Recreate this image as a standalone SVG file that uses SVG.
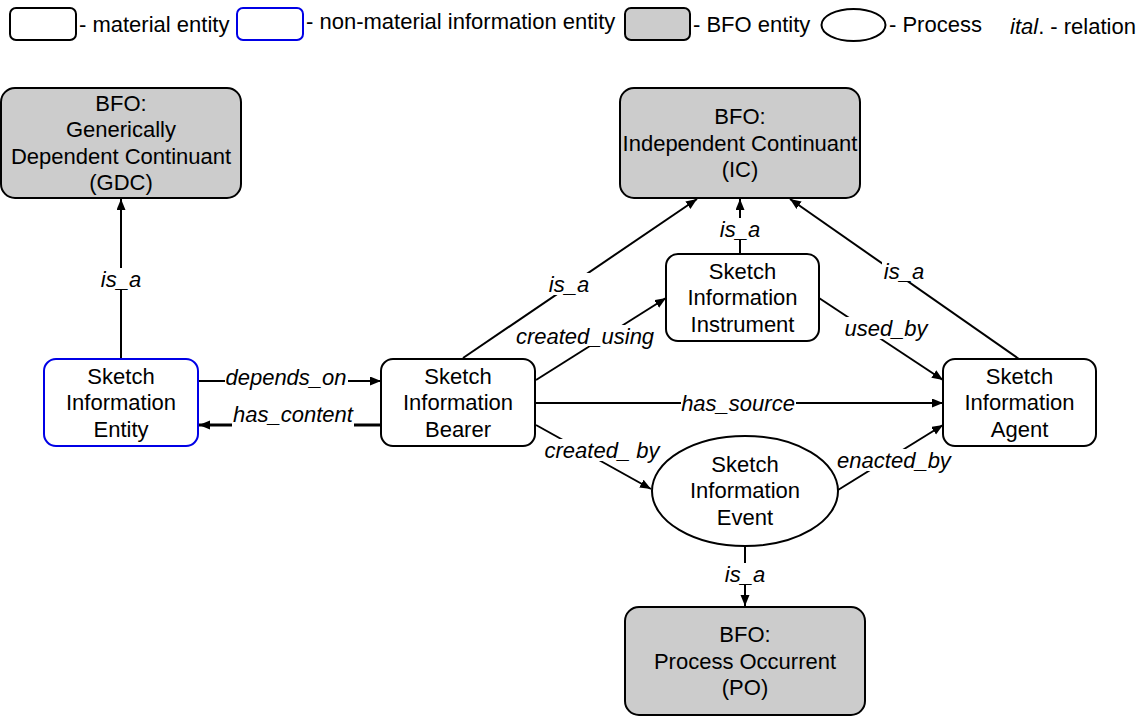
<svg xmlns="http://www.w3.org/2000/svg" width="1143" height="716" viewBox="0 0 1143 716">
<style>
text{font-family:"Liberation Sans",Arial,Helvetica,sans-serif;font-size:22px;fill:#000}
.c{text-anchor:middle}
.lbl{font-style:italic;text-anchor:middle}
.mat{fill:#fff;stroke:#000;stroke-width:2}
.info{fill:#fff;stroke:#0000e6;stroke-width:2}
.bfo{fill:#cccccc;stroke:#000;stroke-width:2}
.proc{fill:#fff;stroke:#000;stroke-width:2}
.edge{stroke:#000;stroke-width:2;fill:none;marker-end:url(#ah)}
.thick{stroke-width:3}
.bg{fill:#fff}
</style>
<defs>
<marker id="ah" markerUnits="userSpaceOnUse" markerWidth="12" markerHeight="10" refX="11" refY="4.5" orient="auto">
<path d="M0,0 L11,4.5 L0,9 z" fill="#000"/>
</marker>
</defs>
<rect width="1143" height="716" fill="#fff"/>
<g id="legend">
<rect class="mat" x="10" y="8" width="66" height="32" rx="6"/>
<text x="79" y="32">- material entity</text>
<rect class="info" x="237" y="8" width="66" height="32" rx="6"/>
<text x="306" y="29">- non-material information entity</text>
<rect class="bfo" x="625" y="8" width="65" height="32" rx="6"/>
<text x="693" y="32">- BFO entity</text>
<ellipse class="proc" cx="853.5" cy="25" rx="32" ry="16"/>
<text x="889" y="32">- Process</text>
<text x="1010" y="34"><tspan font-style="italic">ital</tspan>. - relation</text>
</g>
<g id="connectors">
<line class="edge" x1="121" y1="358" x2="121" y2="199"/>
<line class="edge" x1="198" y1="381" x2="381" y2="381"/>
<line class="edge thick" x1="381" y1="425" x2="199" y2="425"/>
<line class="edge" x1="463" y1="358" x2="697" y2="199"/>
<line class="edge" x1="536" y1="380" x2="666" y2="298"/>
<line class="edge" x1="536" y1="403" x2="943" y2="403"/>
<line class="edge" x1="536" y1="425" x2="651" y2="489"/>
<line class="edge" x1="740" y1="254" x2="740" y2="199"/>
<line class="edge" x1="819" y1="298" x2="943" y2="380"/>
<line class="edge" x1="1019" y1="359" x2="790" y2="199"/>
<line class="edge" x1="838" y1="490" x2="943" y2="425"/>
<line class="edge" x1="745" y1="547" x2="745" y2="606"/>
<rect class="bg" x="99" y="268" width="44" height="22"/>
<text class="lbl" x="121" y="287">is_a</text>
<rect class="bg" x="225" y="366" width="123" height="22"/>
<text class="lbl" x="286" y="385">depends_on</text>
<rect class="bg" x="232" y="403" width="122" height="25"/>
<text class="lbl" x="293" y="422">has_content</text>
<rect class="bg" x="547" y="273" width="44" height="22"/>
<text class="lbl" x="569" y="292">is_a</text>
<rect class="bg" x="515" y="325" width="141" height="22"/>
<text class="lbl" x="585" y="344">created_using</text>
<rect class="bg" x="681" y="392" width="115" height="22"/>
<text class="lbl" x="738" y="411">has_source</text>
<rect class="bg" x="543" y="439" width="118" height="22"/>
<text class="lbl" x="602" y="458">created_ by</text>
<rect class="bg" x="718" y="218" width="44" height="22"/>
<text class="lbl" x="740" y="237">is_a</text>
<rect class="bg" x="843" y="317" width="86" height="22"/>
<text class="lbl" x="886" y="336">used_by</text>
<rect class="bg" x="882" y="260" width="44" height="22"/>
<text class="lbl" x="904" y="279">is_a</text>
<rect class="bg" x="836" y="449" width="117" height="22"/>
<text class="lbl" x="894" y="468">enacted_by</text>
<rect class="bg" x="723" y="563" width="44" height="22"/>
<text class="lbl" x="745" y="582">is_a</text>
</g>
<g id="gdc">
<rect class="bfo" x="1" y="88" width="240" height="110" rx="14"/>
<text class="c" x="121" y="110.5">BFO:</text>
<text class="c" x="121" y="137">Generically</text>
<text class="c" x="121" y="163.5">Dependent Continuant</text>
<text class="c" x="121" y="190">(GDC)</text>
</g>
<g id="ic">
<rect class="bfo" x="620" y="88" width="240" height="110" rx="14"/>
<text class="c" x="740" y="124">BFO:</text>
<text class="c" x="740" y="150.5">Independent Continuant</text>
<text class="c" x="740" y="177">(IC)</text>
</g>
<g id="sie">
<rect class="info" x="44" y="359" width="154" height="87" rx="12"/>
<text class="c" x="121" y="383.5">Sketch</text>
<text class="c" x="121" y="410">Information</text>
<text class="c" x="121" y="436.5">Entity</text>
</g>
<g id="sib">
<rect class="mat" x="381" y="359" width="154" height="87" rx="12"/>
<text class="c" x="458" y="383.5">Sketch</text>
<text class="c" x="458" y="410">Information</text>
<text class="c" x="458" y="436.5">Bearer</text>
</g>
<g id="sii">
<rect class="mat" x="666" y="254" width="153" height="87" rx="12"/>
<text class="c" x="742.5" y="278.5">Sketch</text>
<text class="c" x="742.5" y="305">Information</text>
<text class="c" x="742.5" y="331.5">Instrument</text>
</g>
<g id="sia">
<rect class="mat" x="943" y="359" width="153" height="87" rx="12"/>
<text class="c" x="1019.5" y="383.5">Sketch</text>
<text class="c" x="1019.5" y="410">Information</text>
<text class="c" x="1019.5" y="436.5">Agent</text>
</g>
<g id="event">
<ellipse class="proc" cx="745" cy="491" rx="93" ry="55"/>
<text class="c" x="745" y="471.5">Sketch</text>
<text class="c" x="745" y="498">Information</text>
<text class="c" x="745" y="524.5">Event</text>
</g>
<g id="po">
<rect class="bfo" x="625" y="607" width="240" height="108" rx="14"/>
<text class="c" x="745" y="642">BFO:</text>
<text class="c" x="745" y="668.5">Process Occurrent</text>
<text class="c" x="745" y="695">(PO)</text>
</g>
</svg>
